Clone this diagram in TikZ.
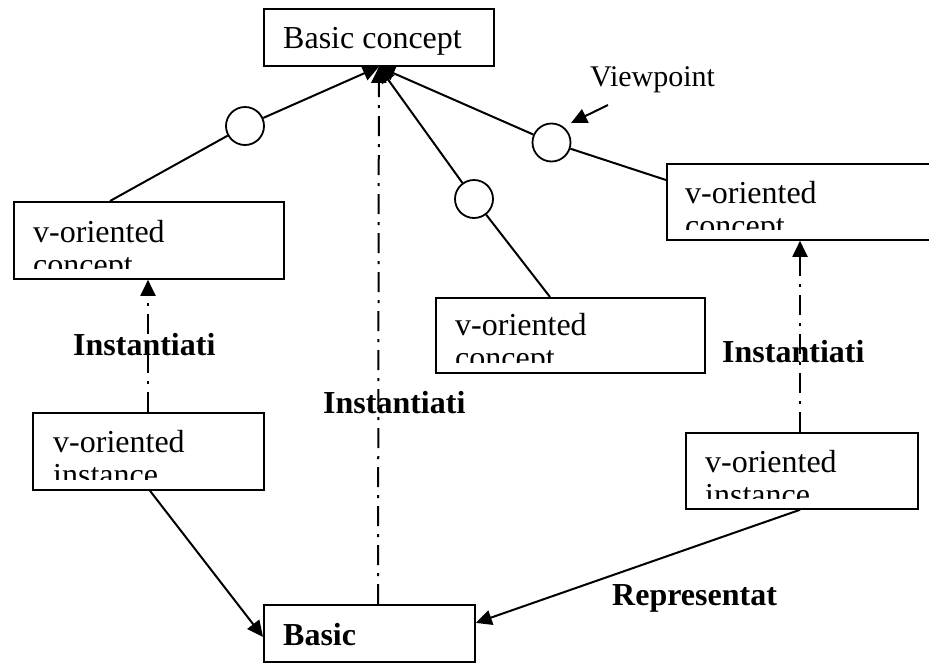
\documentclass[tikz,border=0pt]{standalone}
\usepackage{fontspec}
\setmainfont{Liberation Serif}
\usetikzlibrary{arrows.meta}
\begin{document}
\begin{tikzpicture}[x=1pt,y=-1pt,
  box/.style={draw,line width=1.8pt,rectangle,anchor=north west,inner sep=0pt},
  txt/.style={anchor=base west,inner sep=0pt,font=\fontsize{32}{38}\selectfont},
  lbl/.style={anchor=base west,inner sep=0pt,font=\fontsize{32}{38}\selectfont\bfseries},
  vpt/.style={draw,circle,line width=1.8pt,minimum size=38pt,inner sep=0pt},
  conn/.style={line width=2pt},
  tip/.style={-{Triangle[length=16pt,width=15pt]}},
  dashdot/.style={line width=2pt,dash pattern=on 20pt off 8pt on 3pt off 8pt},
]
\useasboundingbox (0,0) rectangle (929,662);

% boxes
\node[box,minimum width=230pt,minimum height=57pt] (bc) at (263,8) {};
\node[txt] (bct) at (283,48) {Basic concept};

\node[box,minimum width=270pt,minimum height=77pt] (lc) at (13,201) {};
\begin{scope}
  \clip (13,201) rectangle (283,268);
  \node[txt] (lct1) at (33,242) {v-oriented};
  \node[txt] (lct2) at (33,275) {concept};
\end{scope}

\node[box,minimum width=269pt,minimum height=75pt] (mc) at (435,297) {};
\begin{scope}
  \clip (435,297) rectangle (704,362);
  \node[txt] (mct1) at (455,335) {v-oriented};
  \node[txt] (mct2) at (455,368) {concept};
\end{scope}

\node[box,minimum width=280pt,minimum height=76pt] (rc) at (666,163) {};
\begin{scope}
  \clip (666,163) rectangle (929,229);
  \node[txt] (rct1) at (685,203) {v-oriented};
  \node[txt] (rct2) at (685,236) {concept};
\end{scope}

\node[box,minimum width=231pt,minimum height=77pt] (li) at (32,412) {};
\begin{scope}
  \clip (32,412) rectangle (263,479);
  \node[txt] (lit1) at (53,452) {v-oriented};
  \node[txt] (lit2) at (53,485) {instance};
\end{scope}

\node[box,minimum width=232pt,minimum height=76pt] (ri) at (685,432) {};
\begin{scope}
  \clip (685,432) rectangle (917,498);
  \node[txt] (rit1) at (705,472) {v-oriented};
  \node[txt] (rit2) at (705,505) {instance};
\end{scope}

\node[box,minimum width=211pt,minimum height=57pt] (bb) at (263,604) {};
\node[lbl] (bbt) at (283,645) {Basic};

% viewpoint circles
\node[vpt] (cl) at (245,126) {};
\node[vpt] (cm) at (474,199) {};
\node[vpt] (cr) at (551.5,142.5) {};

\draw[conn] ([xshift=97pt]lc.north west) -- (cl);
\draw[conn,tip] (cl) -- (bc.south);
\draw[conn] ([xshift=115pt]mc.north west) -- (cm);
\draw[conn,tip] (cm) -- (bc.south);
\draw[conn] ([yshift=-17pt]rc.north west) -- (cr);
\draw[conn,tip] (cr) -- (bc.south);

% instantiation (dash-dot)
\draw[dashdot,tip] ([xshift=116pt]li.north west) -- ([xshift=135pt]lc.south west);
\draw[dashdot,tip] ([xshift=115pt]bb.north west) -- (bc.south);
\draw[dashdot,tip] ([xshift=115pt]ri.north west) -- ([xshift=134pt]rc.south west);

% representation arrows
\draw[conn,tip] ([xshift=118pt]li.south west) -- ([yshift=-3.5pt]bb.west);
\draw[conn,tip] ([xshift=115pt]ri.south west) -- ([yshift=10.5pt]bb.east);

% viewpoint label
\node[txt,font=\fontsize{30}{36}\selectfont] (vp) at (590,86) {Viewpoint};
\coordinate (vptail) at (608,105);
\coordinate (vptip) at (571,123);
\draw[conn,tip] (vptail) -- (vptip);

% labels
\node[lbl] (in1) at (73,355) {Instantiati};
\node[lbl] (in2) at (323,413) {Instantiati};
\node[lbl] (in3) at (722,362) {Instantiati};
\node[lbl] (rep) at (612,605) {Representat};
\end{tikzpicture}
\end{document}
